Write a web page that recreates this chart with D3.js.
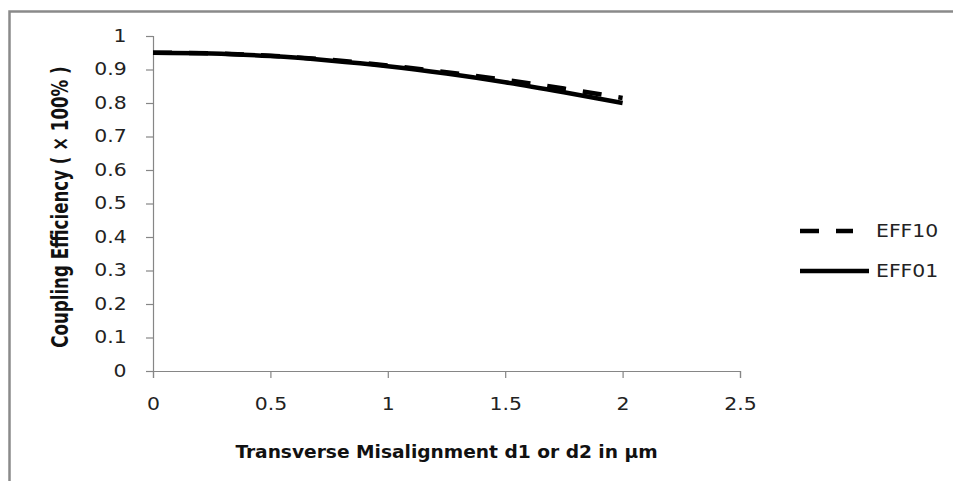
<!DOCTYPE html>
<html>
<head>
<meta charset="utf-8">
<script src="https://cdn.jsdelivr.net/npm/d3@7"></script>
<style>
  body { margin: 0; background: #fff; }
  svg { display: block; }
</style>
</head>
<body>
<div id="chart"></div>
<script>
// Data
const misalignment = [0, 0.25, 0.5, 0.75, 1, 1.25, 1.5, 1.75, 2];
const eff10 = [0.950, 0.948, 0.941, 0.929, 0.912, 0.892, 0.869, 0.843, 0.815];
const eff01 = [0.950, 0.948, 0.940, 0.927, 0.910, 0.888, 0.862, 0.832, 0.800];
const xTicks = [0, 0.5, 1, 1.5, 2, 2.5];
const yTicks = [0, 0.1, 0.2, 0.3, 0.4, 0.5, 0.6, 0.7, 0.8, 0.9, 1];
const seriesNames = ['EFF10', 'EFF01'];

const width = 955;
const height = 481;
const margin = { left: 153, right: 215, top: 36, bottom: 110 };

// the original picture is stretched sideways a bit, so text is too
const stretch = 1.2;

const svg = d3.select('#chart').append('svg')
    .attr('width', width)
    .attr('height', height);

// outer chart frame (only top and left edges visible)
svg.append('path')
    .attr('d', 'M9.5,481 L9.5,11.5 L953,11.5')
    .attr('fill', 'none')
    .attr('stroke', '#8a8a8a')
    .attr('stroke-width', 2.5);

const x = d3.scaleLinear()
    .domain([0, 2.5])
    .range([margin.left, width - margin.right]);

const y = d3.scaleLinear()
    .domain([0, 1])
    .range([height - margin.bottom, margin.top]);

const tickFont = '"DejaVu Sans", sans-serif';
const titleFont = '"Liberation Sans Narrow", "DejaVu Sans Condensed", sans-serif';
const axisColor = '#868686';

// y axis
const yAxis = svg.append('g')
    .attr('transform', `translate(${x(0)},0)`)
    .call(d3.axisLeft(y).tickValues(yTicks).tickSize(7).tickPadding(15)
        .tickFormat(d => d3.format('')(+d.toFixed(1))));

// x axis
const xAxis = svg.append('g')
    .attr('transform', `translate(0,${y(0)})`)
    .call(d3.axisBottom(x).tickValues(xTicks).tickSize(7).tickPadding(20)
        .tickFormat(d => d3.format('')(d)));

[yAxis, xAxis].forEach(a => {
    a.select('.domain').attr('stroke', axisColor).attr('stroke-width', 1.2);
    a.selectAll('.tick line').attr('stroke', axisColor).attr('stroke-width', 1.2);
    a.selectAll('.tick text')
        .attr('transform', `scale(${stretch},1)`)
        .style('font-family', tickFont)
        .style('font-size', '17px')
        .attr('fill', '#222');
});

// axis titles
svg.append('text')
    .attr('transform', `translate(${(x(0) + x(2.5)) / 2},458) scale(1.15,1)`)
    .attr('text-anchor', 'middle')
    .style('font-family', titleFont)
    .style('font-weight', 'bold')
    .style('font-size', '18px')
    .attr('fill', '#111')
    .text('Transverse Misalignment d1 or d2 in µm');

svg.append('text')
    .attr('transform', `translate(68,207) rotate(-90) scale(1,${stretch})`)
    .attr('text-anchor', 'middle')
    .style('font-family', titleFont)
    .style('font-weight', 'bold')
    .style('font-size', '18.5px')
    .attr('fill', '#111')
    .text('Coupling Efficiency ( × 100% )');

// lines
const line = d3.line()
    .x((d, i) => x(misalignment[i]))
    .y(d => y(d))
    .curve(d3.curveMonotoneX);

const dash = '19,17';

svg.append('path')
    .datum(eff01)
    .attr('d', line)
    .attr('fill', 'none')
    .attr('stroke', '#000')
    .attr('stroke-width', 4.5);

svg.append('path')
    .datum(eff10)
    .attr('d', line)
    .attr('fill', 'none')
    .attr('stroke', '#000')
    .attr('stroke-width', 4.5)
    .attr('stroke-dasharray', dash);

// legend
const legend = svg.append('g');
const legendRows = [
    { name: seriesNames[0], y: 231, x2: 853, dash: dash },
    { name: seriesNames[1], y: 271, x2: 869, dash: null }
];
legendRows.forEach(r => {
    legend.append('line')
        .attr('x1', 800).attr('x2', r.x2)
        .attr('y1', r.y).attr('y2', r.y)
        .attr('stroke', '#000')
        .attr('stroke-width', 4.5)
        .attr('stroke-dasharray', r.dash);
    legend.append('text')
        .attr('transform', `translate(876,${r.y}) scale(${stretch},1)`)
        .attr('dy', '0.35em')
        .style('font-family', tickFont)
        .style('font-size', '17px')
        .attr('fill', '#222')
        .text(r.name);
});
</script>
</body>
</html>
